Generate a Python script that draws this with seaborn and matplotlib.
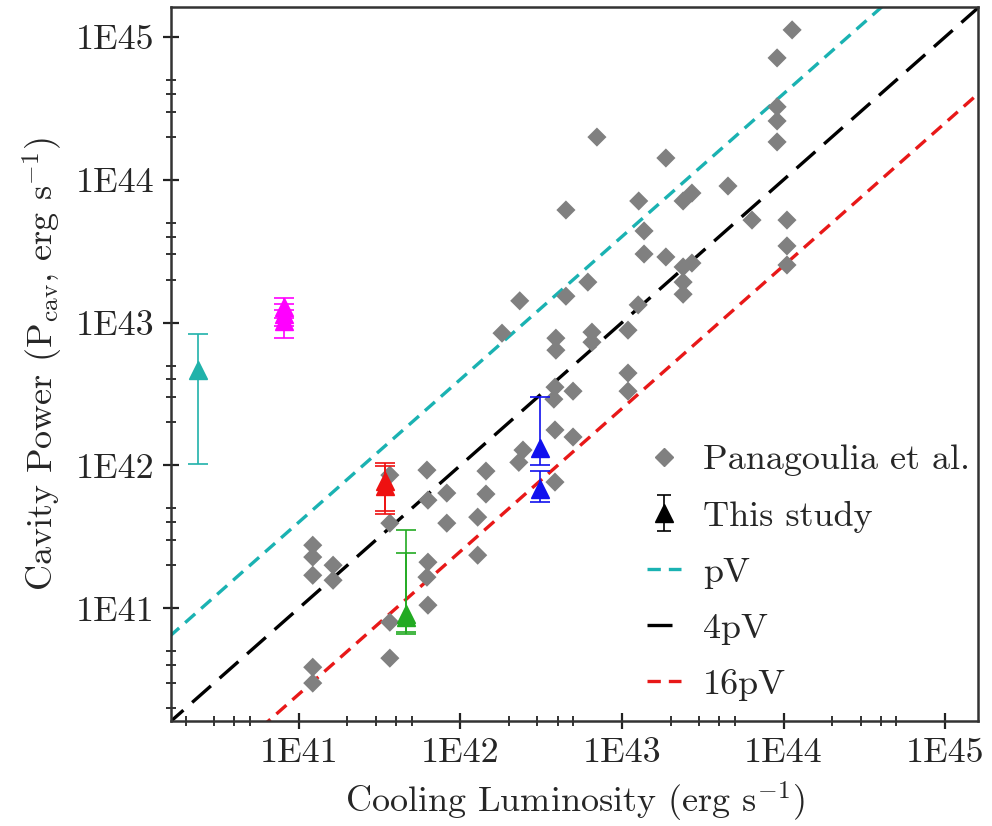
import seaborn as sns
import matplotlib.pyplot as plt
import numpy as np
import pandas as pd
from matplotlib.lines import Line2D
from matplotlib.ticker import LogLocator, NullFormatter

# Panagoulia et al. sample (cooling luminosity, cavity power)
pan_lcool = [1.22e41, 1.22e41, 1.22e41, 1.63e41, 1.63e41, 1.22e41, 1.22e41,
             3.66e41, 3.66e41, 3.66e41, 3.66e41, 6.21e41, 6.30e41, 8.24e41,
             8.24e41, 6.30e41, 6.21e41, 6.30e41, 1.28e42, 1.28e42, 1.44e42,
             1.44e42, 2.30e42, 2.44e42, 1.81e42, 2.33e42, 3.85e42, 3.85e42,
             4.98e42, 3.79e42, 3.85e42, 4.98e42, 3.90e42, 3.90e42, 4.50e42,
             6.15e42, 6.52e42, 6.52e42, 4.50e42, 7.00e42, 1.09e43, 1.26e43,
             1.09e43, 1.09e43, 1.27e43, 1.37e43, 1.37e43, 1.87e43, 1.87e43,
             2.39e43, 2.71e43, 2.39e43, 2.71e43, 2.39e43, 2.39e43, 4.53e43,
             6.38e43, 1.05e44, 1.05e44, 1.05e44, 9.12e43, 9.12e43, 9.12e43,
             9.12e43, 1.13e44]
pan_pcav = [2.76e41, 2.28e41, 1.70e41, 2.00e41, 1.57e41, 3.86e40, 2.99e40,
            8.55e41, 3.94e41, 7.98e40, 4.47e40, 9.27e41, 5.71e41, 6.40e41,
            3.94e41, 2.10e41, 1.65e41, 1.05e41, 4.34e41, 2.35e41, 9.12e41,
            6.30e41, 1.05e42, 1.28e42, 8.43e42, 1.42e43, 7.64e41, 1.77e42,
            1.58e42, 2.91e42, 3.53e42, 3.31e42, 7.78e42, 6.41e42, 1.53e43,
            1.92e43, 8.57e42, 7.29e42, 6.14e43, 1.99e44, 8.85e42, 1.33e43,
            4.43e42, 3.31e42, 7.10e43, 4.38e43, 3.02e43, 2.88e43, 1.42e44,
            7.10e43, 8.07e43, 2.45e43, 2.61e43, 1.92e43, 1.58e43, 9.04e43,
            5.22e43, 5.22e43, 3.44e43, 2.53e43, 1.84e44, 2.58e44, 3.24e44,
            7.13e44, 1.12e45]

# This study: one entry per measurement
study_lcool = [2.37e40, 8.07e40, 8.07e40, 8.07e40, 3.41e41, 3.41e41,
               4.64e41, 4.64e41, 3.10e42, 3.10e42]
study_pcav = [4.65e42, 1.28e43, 1.15e43, 1.03e43, 7.76e41, 7.16e41,
              9.08e40, 8.65e40, 1.32e42, 6.83e41]
study_pcav_hi = [8.3e42, 1.49e43, 1.35e43, 1.22e43, 1.04e42, 9.9e41,
                 3.52e41, 2.43e41, 3.0e42, 9.1e41]
study_pcav_lo = [1.02e42, 1.08e43, 9.4e42, 7.8e42, 4.79e41, 4.56e41,
                 6.8e40, 6.6e40, 1.0e42, 5.53e41]
study_colors = ['#20b2aa', '#ff00ff', '#ff00ff', '#ff00ff', '#ee1111', '#ee1111',
                '#22aa22', '#22aa22', '#1010ee', '#1010ee']

# reference relations  Pcav = factor * Lcool
rel_names = ['pV', '4pV', '16pV']
rel_factor = [4.0, 1.0, 0.25]
rel_lrange = [1e40, 1e46]

tick_vals = [1e41, 1e42, 1e43, 1e44, 1e45]
tick_labels = ['1E41', '1E42', '1E43', '1E44', '1E45']

sns.set_theme(style='ticks')
plt.rcParams['font.family'] = ['cmr10', 'DejaVu Serif']
plt.rcParams['mathtext.fontset'] = 'cm'
plt.rcParams['axes.unicode_minus'] = False
plt.rcParams['axes.formatter.use_mathtext'] = True

fig = plt.figure(figsize=(9.92, 8.26), dpi=100)
ax = fig.add_axes([0.172, 0.127, 0.814, 0.8645])

rel_colors = ['#1ab2b2', 'black', '#e81818']
rel_dashes = [(4, 2.4), (7.5, 3.5), (4, 2.4)]
for name, f, c, d in zip(rel_names, rel_factor, rel_colors, rel_dashes):
    xs = np.array(rel_lrange)
    ax.plot(xs, f * xs, color=c, lw=2.4, dashes=d, label=name, zorder=1)

df = pd.DataFrame({'Lcool': pan_lcool, 'Pcav': pan_pcav})
sns.scatterplot(data=df, x='Lcool', y='Pcav', marker='D', s=95, color='#808080',
                edgecolor='none', ax=ax, zorder=2, legend=False)

for x, y, hi, lo, c in zip(study_lcool, study_pcav, study_pcav_hi, study_pcav_lo, study_colors):
    ax.errorbar([x], [y], yerr=[[y - lo], [hi - y]], fmt='^', color=c, ms=13,
                mec=c, elinewidth=1.2, capsize=7, capthick=1.2, zorder=3)

ax.set_xscale('log')
ax.set_yscale('log')
ax.set_xlim(1.61e40, 1.6e45)
ax.set_ylim(1.62e40, 1.62e45)

ax.set_xticks(tick_vals, tick_labels)
ax.set_yticks(tick_vals, tick_labels)
ax.xaxis.set_minor_locator(LogLocator(base=10, subs=[2, 3, 4, 5]))
ax.yaxis.set_minor_locator(LogLocator(base=10, subs=[2, 3, 4, 5]))
ax.xaxis.set_minor_formatter(NullFormatter())
ax.yaxis.set_minor_formatter(NullFormatter())
ax.tick_params(which='major', direction='inout', length=11, width=1.6,
               labelsize=26, color='#222222', pad=6)
ax.tick_params(which='minor', direction='inout', length=7, width=1.3, color='#222222')
for sp in ax.spines.values():
    sp.set_visible(True)
    sp.set_linewidth(1.8)
    sp.set_color('#333333')

ax.set_xlabel('Cooling Luminosity (erg s$^{-1}$)', fontsize=26, labelpad=8)
ax.set_ylabel('Cavity Power (P$_{\\rm cav}$, erg s$^{-1}$)', fontsize=26, labelpad=8)

# legend proxy for the study points, drawn like the error-bar markers
eb = ax.errorbar([np.nan], [np.nan], yerr=[[np.nan], [np.nan]], fmt='^', color='black',
                 ms=13, elinewidth=1.2, capsize=5, capthick=1.2)
handles = [Line2D([], [], ls='none', marker='D', color='#808080', ms=9), eb]
labels = ['Panagoulia et al.', 'This study']
line_h, line_l = ax.get_legend_handles_labels()
handles += line_h[:3]
labels += line_l[:3]
ax.legend(handles, labels, loc='lower left', bbox_to_anchor=(0.572, 0.008),
          frameon=False, fontsize=26, handlelength=0.95, handletextpad=0.6,
          labelspacing=0.66, borderaxespad=0.0, borderpad=0.4)

plt.savefig('out.png', dpi=100)
